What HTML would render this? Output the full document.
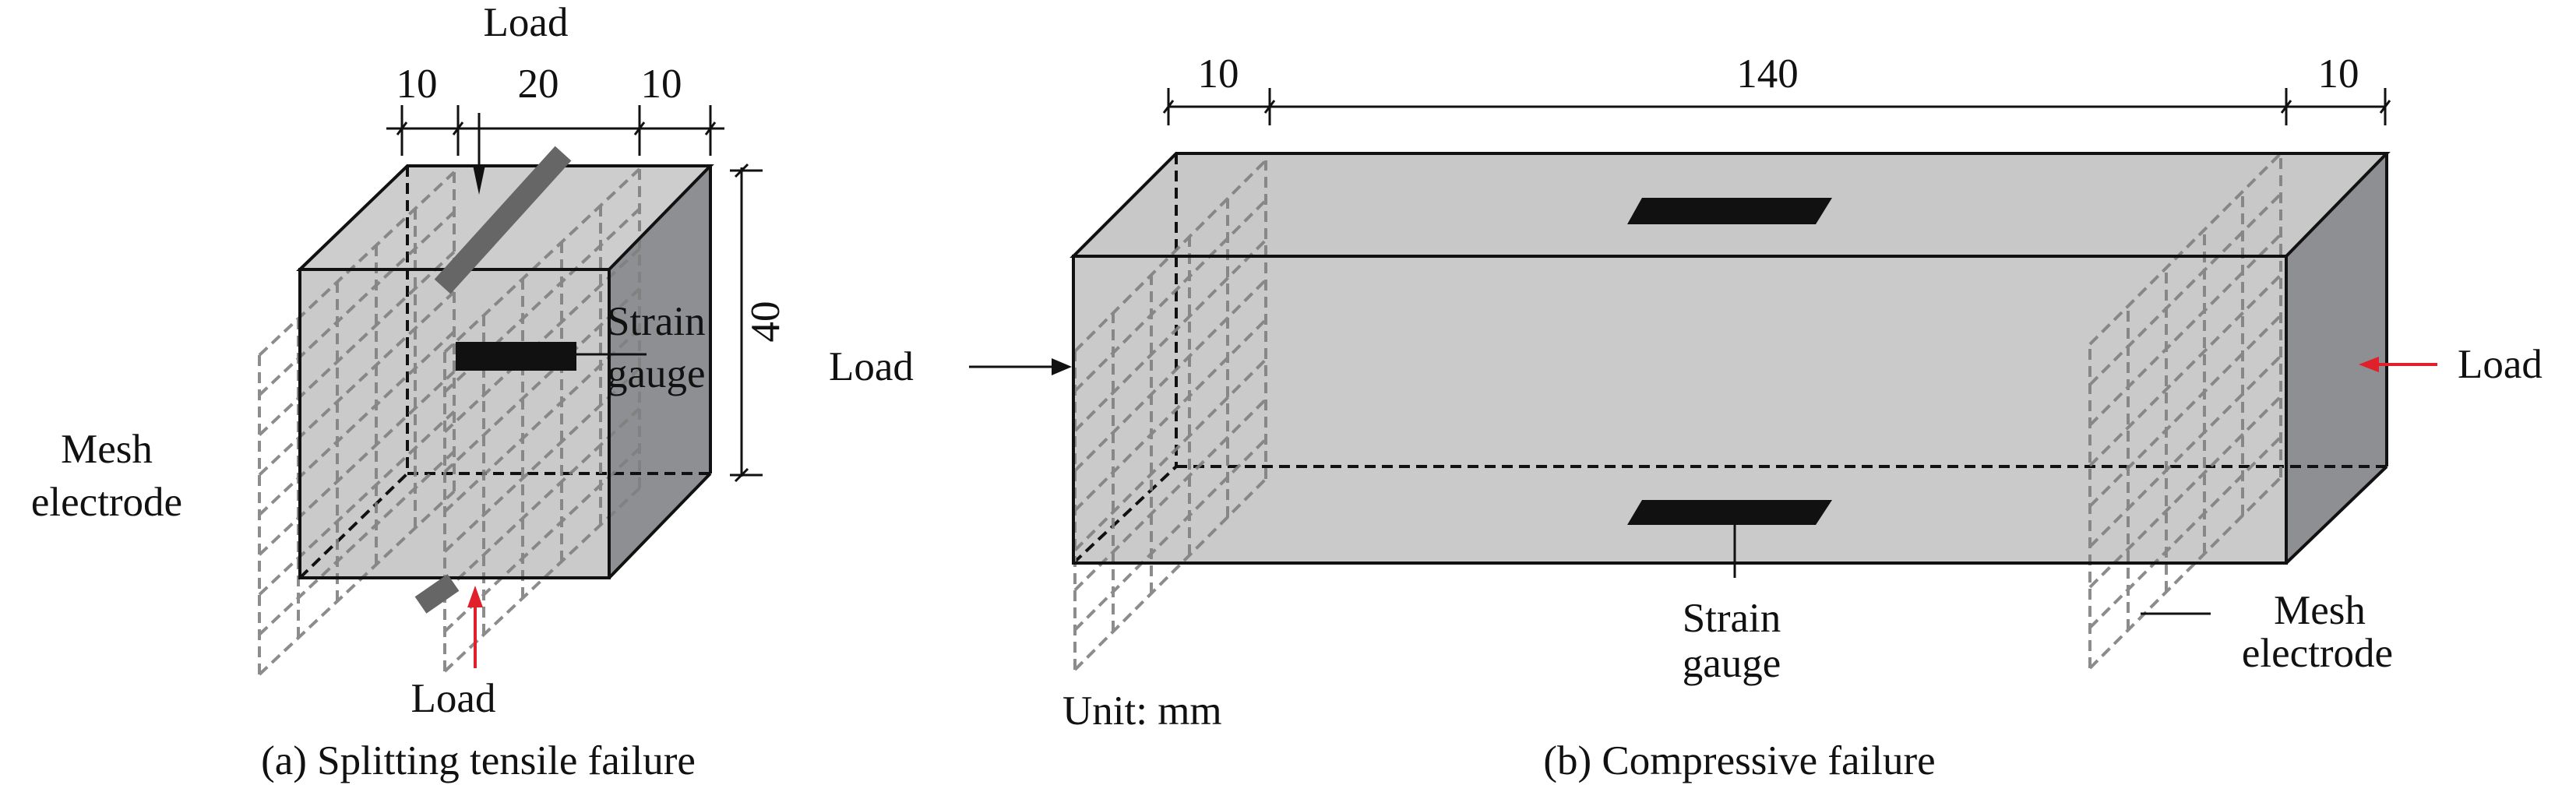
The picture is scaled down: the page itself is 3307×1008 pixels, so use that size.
<!DOCTYPE html>
<html><head><meta charset="utf-8"><style>
html,body{margin:0;padding:0;background:#fff}
svg{display:block}
text{font-family:"Liberation Serif",serif;font-size:53px;fill:#111}
</style></head><body>
<svg id="s" width="3307" height="1008" viewBox="0 0 3307 1008" xmlns="http://www.w3.org/2000/svg">
<!-- LEFT CUBE -->
<polygon points="385,346 523,213 912,213 782,346" fill="#cdcdcd"/>
<polygon points="782,346 912,213 912,608 782,742" fill="#8e8f93"/>
<polygon points="385,346 782,346 782,742 385,742" fill="#cacaca"/>
<g stroke="#111" stroke-width="4" stroke-dasharray="14 8" fill="none">
<line x1="523" y1="213" x2="523" y2="608"/><line x1="523" y1="608" x2="912" y2="608"/><line x1="385" y1="742" x2="523" y2="608"/>
</g>
<g id="m1"></g>
<g stroke="#111" stroke-width="4" fill="none">
<polygon points="385,346 523,213 912,213 782,346"/>
<line x1="782" y1="346" x2="782" y2="742"/><line x1="912" y1="213" x2="912" y2="608"/><line x1="782" y1="742" x2="912" y2="608"/>
<rect x="385" y="346" width="397" height="396"/>
</g>
<line x1="723" y1="197" x2="568" y2="368" stroke="#666" stroke-width="28"/>
<line x1="540" y1="777" x2="582" y2="748" stroke="#666" stroke-width="26"/>
<rect x="585" y="439" width="155" height="37" fill="#111"/>
<line x1="702" y1="455" x2="830" y2="455" stroke="#111" stroke-width="3"/>
<text x="779" y="430">Strain</text><text x="779" y="497">gauge</text>
<!-- dims left -->
<g stroke="#111" stroke-width="3">
<line x1="496" y1="165" x2="930" y2="165"/>
<line x1="516" y1="135" x2="516" y2="200"/><line x1="588" y1="135" x2="588" y2="200"/><line x1="821" y1="135" x2="821" y2="200"/><line x1="912" y1="135" x2="912" y2="200"/>
<line x1="510" y1="173" x2="522" y2="157"/><line x1="582" y1="173" x2="594" y2="157"/><line x1="815" y1="173" x2="827" y2="157"/><line x1="906" y1="173" x2="918" y2="157"/>
<line x1="952" y1="215" x2="952" y2="612"/><line x1="937" y1="219" x2="979" y2="219"/><line x1="937" y1="610" x2="979" y2="610"/>
<line x1="944" y1="227" x2="960" y2="211"/><line x1="944" y1="618" x2="960" y2="602"/>
<line x1="615" y1="145" x2="615" y2="222"/>
</g>
<polygon points="607,212 623,212 615,250" fill="#111"/>
<line x1="610" y1="858" x2="610" y2="778" stroke="#e0202a" stroke-width="4"/>
<polygon points="600,780 620,780 610,752" fill="#e0202a"/>
<text x="535" y="125" text-anchor="middle">10</text><text x="691" y="125" text-anchor="middle">20</text><text x="849" y="125" text-anchor="middle">10</text>
<text x="675" y="46" text-anchor="middle">Load</text>
<text x="582" y="914" text-anchor="middle">Load</text>
<text transform="translate(1000,413) rotate(-90)" text-anchor="middle">40</text>
<text x="137" y="594" text-anchor="middle">Mesh</text><text x="137" y="662" text-anchor="middle">electrode</text>
<text x="614" y="994" text-anchor="middle">(a) Splitting tensile failure</text>
<!-- RIGHT CUBE -->
<polygon points="1378,329 1510,197 3064,197 2935,329" fill="#c8c8c8"/>
<polygon points="2935,329 3064,197 3064,599 2935,723" fill="#8e8f93"/>
<polygon points="1378,329 2935,329 2935,723 1378,723" fill="#cacaca"/>
<g stroke="#111" stroke-width="4" stroke-dasharray="14 8" fill="none">
<line x1="1510" y1="197" x2="1510" y2="599"/><line x1="1510" y1="599" x2="3064" y2="599"/><line x1="1378" y1="723" x2="1510" y2="599"/>
</g>
<polygon points="2108,254 2352,254 2331,288 2089,288" fill="#111"/>
<polygon points="2108,642 2352,642 2331,674 2089,674" fill="#111"/>
<g id="m2"></g>
<g stroke="#111" stroke-width="4" fill="none">
<polygon points="1378,329 1510,197 3064,197 2935,329"/>
<line x1="3064" y1="197" x2="3064" y2="599"/><line x1="2935" y1="723" x2="3064" y2="599"/>
<rect x="1378" y="329" width="1557" height="394"/>
</g>
<line x1="2227" y1="674" x2="2227" y2="742" stroke="#111" stroke-width="3"/>
<line x1="2748" y1="788" x2="2838" y2="788" stroke="#111" stroke-width="3"/>
<g stroke="#111" stroke-width="3">
<line x1="1500" y1="137" x2="3062" y2="137"/>
<line x1="1500" y1="113" x2="1500" y2="161"/><line x1="1630" y1="113" x2="1630" y2="161"/><line x1="2935" y1="113" x2="2935" y2="161"/><line x1="3062" y1="113" x2="3062" y2="161"/>
<line x1="1494" y1="145" x2="1506" y2="129"/><line x1="1624" y1="145" x2="1636" y2="129"/><line x1="2929" y1="145" x2="2941" y2="129"/><line x1="3056" y1="145" x2="3068" y2="129"/>
<line x1="1244" y1="471" x2="1352" y2="471"/>
</g>
<polygon points="1350,460 1350,482 1376,471" fill="#111"/>
<line x1="3129" y1="468" x2="3050" y2="468" stroke="#e0202a" stroke-width="4"/>
<polygon points="3054,458 3054,478 3028,468" fill="#e0202a"/>
<text x="1564" y="112" text-anchor="middle">10</text><text x="2269" y="112" text-anchor="middle">140</text><text x="3002" y="112" text-anchor="middle">10</text>
<text x="1064" y="488">Load</text><text x="3155" y="485">Load</text>
<text x="2223" y="811" text-anchor="middle">Strain</text><text x="2223" y="869" text-anchor="middle">gauge</text>
<text x="2978" y="801" text-anchor="middle">Mesh</text><text x="2975" y="856" text-anchor="middle">electrode</text>
<text x="1364" y="930">Unit: mm</text>
<text x="2233" y="994" text-anchor="middle">(b) Compressive failure</text>
</svg>
<script>
function mesh(g,x0,y0,dx,dy,h,nv,nh){
 var s="";
 for(var i=0;i<nv;i++){var t=i/(nv-1),x=x0+t*dx,y=y0+t*dy;s+='<line x1="'+x+'" y1="'+y+'" x2="'+x+'" y2="'+(y-h)+'"/>';}
 for(var j=0;j<nh;j++){var o=j*h/(nh-1);s+='<line x1="'+x0+'" y1="'+(y0-o)+'" x2="'+(x0+dx)+'" y2="'+(y0+dy-o)+'"/>';}
 g.innerHTML+= '<g stroke="#808080" stroke-width="4" stroke-dasharray="14 8" fill="none" opacity="0.9">'+s+'</g>';
}
var m1=document.getElementById('m1'),m2=document.getElementById('m2');
mesh(m1,333,866,250,-235,410,6,9);
mesh(m1,571,862,250,-235,410,6,9);
mesh(m2,1380,860,245,-245,409,6,9);
mesh(m2,2683,858,245,-245,416,6,9);
</script>
</body></html>
